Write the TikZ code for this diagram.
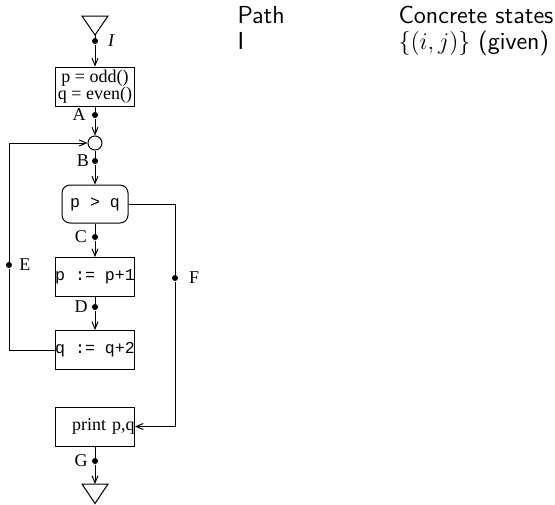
\documentclass[tikz,border=0pt]{standalone}
\usepackage{fontspec}
\setmainfont{Liberation Serif}
\setmonofont{Liberation Mono}
\usetikzlibrary{arrows.meta}
\begin{document}
\begin{tikzpicture}[x=0.5pt,y=-0.5pt,line width=0.5pt,
		>={Straight Barb[length=3.5pt,width=3pt]},
		box/.style={draw,minimum width=39.5pt,minimum height=19.5pt,inner sep=0pt,font=\fontsize{9}{8.6}\selectfont},
		code/.style={box,font=\fontsize{8.3}{10}\ttfamily},
		dot/.style={circle,fill,inner sep=0pt,minimum size=3pt},
		lbl/.style={font=\fontsize{9}{10}\selectfont,inner sep=0pt},
		head/.style={anchor=base west,inner sep=0pt,font=\fontsize{12.3}{14}\sffamily}]
	\useasboundingbox (0,0) rectangle (555,504);
	% table on the right
	\node[head] (hpath) at (237,23) {Path};
	\node[head] (hstate) at (398,23) {Concrete states};
	\node[head] (rpath) at (237,49) {I};
	\node[head] (rstate) at (398,49) {$\{(i,j)\}$ (given)};
	% entry and exit
	\coordinate (entry) at (95,35);
	\coordinate (exit) at (95,484);
	\draw (82,16) -- (108,16) -- (entry) -- cycle;
	\draw (82,484) -- (108,484) -- (95,503.5) -- cycle;
	% blocks
	\node[box,align=center] (init) at (95,86.5) {p = odd()\\q = even()};
	\node[draw,circle,inner sep=0pt,minimum size=7pt] (merge) at (95,143) {};
	\node[code,rounded corners=4pt,minimum width=33pt,minimum height=19pt] (test) at (95,204) {p > q};
	\node[code] (incp) at (95,277) {p := p+1};
	\node[code] (incq) at (95,350) {q := q+2};
	\node[box,text width=39.5pt,align=right] (print) at (95,426.5) {print p,q};
	% path points
	\node[dot,label={[lbl,label distance=4.5pt]right:\textit{I}}] (pI) at (95,41) {};
	\node[dot,label={[lbl,label distance=2.7pt]left:A}] (pA) at (95,115) {};
	\node[dot,label={[lbl,label distance=1pt]left:B}] (pB) at (95,161) {};
	\node[dot,label={[lbl,label distance=2pt]left:C}] (pC) at (95,237) {};
	\node[dot,label={[lbl,label distance=1.7pt]left:D}] (pD) at (95,307) {};
	\node[dot,label={[lbl,label distance=3.2pt]right:E}] (pE) at (9,265) {};
	\node[dot,label={[lbl,label distance=5pt]right:F}] (pF) at (175,278) {};
	\node[dot,label={[lbl,label distance=1.7pt]left:G}] (pG) at (95,461) {};
	% connectors
	\draw[->] (entry) -- (pI) -- (init);
	\draw[->] (init) -- (pA) -- (merge);
	\draw[->] (merge) -- (pB) -- (test);
	\draw[->] (test) -- (pC) -- (incp);
	\draw[->] (incp) -- (pD) -- (incq);
	\draw[->] (incq.west) -- (incq.west -| pE) -- (pE) -- (pE |- merge) -- (merge);
	\draw[->] (test.east) -- (test.east -| pF) -- (pF) -- (pF |- print) -- (print);
	\draw[->] (print) -- (pG) -- (exit);
\end{tikzpicture}
\end{document}
